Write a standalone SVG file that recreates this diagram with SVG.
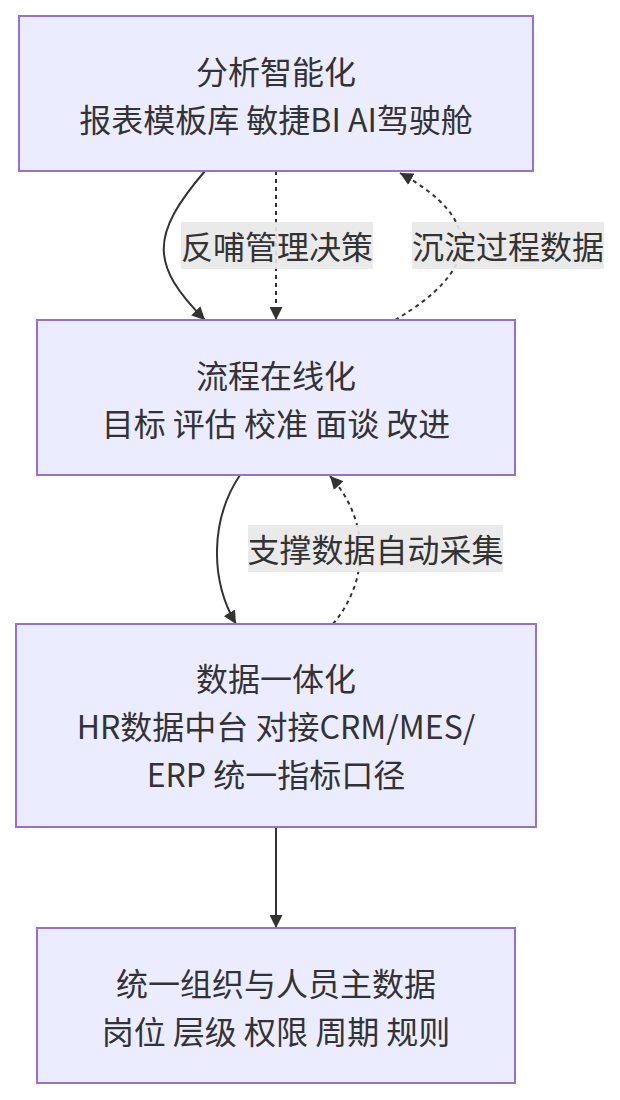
<svg xmlns="http://www.w3.org/2000/svg" width="620" height="1100" viewBox="0 0 620 1100">
<style>
.node rect{fill:#ECECFF;stroke:#9370DB;stroke-width:2}
text{font-family:"Noto Sans CJK SC","Noto Sans",sans-serif;font-size:32px;fill:#333;text-anchor:middle;dominant-baseline:central}
.edge{fill:none;stroke:#333;stroke-width:2}
.dash{stroke-dasharray:4 4}
.lbl{fill:#E8E8E8;opacity:0.9}
</style>
<defs>
<marker id="arr" viewBox="0 0 10 10" refX="10" refY="5" markerWidth="13" markerHeight="13" markerUnits="userSpaceOnUse" orient="auto">
<path d="M0,0 L10,5 L0,10 z" fill="#333"/>
</marker>
</defs>
<g id="connectors">
<path class="edge" d="M205,171 C150,235 150,265 205,320" marker-end="url(#arr)"/>
<path class="edge dash" d="M276,171 L276,320" marker-end="url(#arr)"/>
<path class="edge dash" d="M395,320 C480,270 485,220 400,173" marker-end="url(#arr)"/>
<path class="edge" d="M240,475 C210,520 210,580 236,624" marker-end="url(#arr)"/>
<path class="edge dash" d="M333,624 C370,580 370,520 330,476" marker-end="url(#arr)"/>
<path class="edge" d="M276,827 L276,928" marker-end="url(#arr)"/>
<g id="label1"><rect class="lbl" x="181" y="222" width="192" height="47"/><text x="277" y="245">反哺管理决策</text></g>
<g id="label2"><rect class="lbl" x="412" y="222" width="192" height="47"/><text x="508" y="245">沉淀过程数据</text></g>
<g id="label3"><rect class="lbl" x="248" y="525" width="255" height="47"/><text x="375.5" y="548">支撑数据自动采集</text></g>
</g>
<g id="n1" class="node"><rect x="19" y="16" width="514" height="155"/><text x="276" y="70">分析智能化</text><text x="276" y="118">报表模板库 敏捷BI AI驾驶舱</text></g>
<g id="n2" class="node"><rect x="37" y="320" width="478" height="155"/><text x="276" y="374">流程在线化</text><text x="276" y="422">目标 评估 校准 面谈 改进</text></g>
<g id="n3" class="node"><rect x="16" y="624" width="520" height="203"/><text x="276" y="677">数据一体化</text><text x="276" y="725">HR数据中台 对接CRM/MES/</text><text x="276" y="773">ERP 统一指标口径</text></g>
<g id="n4" class="node"><rect x="37" y="928" width="478" height="155"/><text x="276" y="982">统一组织与人员主数据</text><text x="276" y="1030">岗位 层级 权限 周期 规则</text></g>
</svg>
